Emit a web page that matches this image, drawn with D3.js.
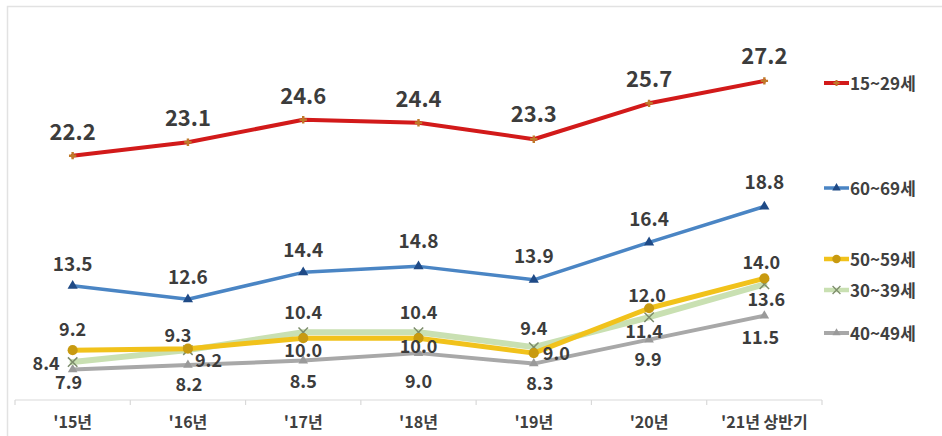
<!DOCTYPE html>
<html>
<head>
<meta charset="utf-8">
<script src="https://cdn.jsdelivr.net/npm/d3@7"></script>
<style>
  html, body { margin: 0; padding: 0; background: #fff; }
  svg { display: block; }
  text { font-family: "Noto Sans CJK KR", "Noto Sans", sans-serif; }
</style>
</head>
<body>
<svg id="chart" width="942" height="436"></svg>
<script>
// Unemployment-style rates by age group, '15 – '21 first half
const categories = ["'15년", "'16년", "'17년", "'18년", "'19년", "'20년", "'21년 상반기"];
const seriesNames = ["15~29세", "60~69세", "50~59세", "30~39세", "40~49세"];
const values15to29 = [22.2, 23.1, 24.6, 24.4, 23.3, 25.7, 27.2];
const values60to69 = [13.5, 12.6, 14.4, 14.8, 13.9, 16.4, 18.8];
const values50to59 = [9.2, 9.3, 10.0, 10.0, 9.0, 12.0, 14.0];
const values30to39 = [8.4, 9.2, 10.4, 10.4, 9.4, 11.4, 13.6];
const values40to49 = [7.9, 8.2, 8.5, 9.0, 8.3, 9.9, 11.5];

const seriesValues = [values15to29, values60to69, values50to59, values30to39, values40to49];

// Visual style per series (same order as seriesNames)
const styles = [
  { color: "#d21a1a", width: 4,   marker: "cross",    mColor: "#c07a2a", mSize: 30, font: 22 },
  { color: "#4a85c4", width: 3.5, marker: "triangle", mColor: "#1f4a86", mSize: 45, font: 19 },
  { color: "#f1c21b", width: 5,   marker: "circle",   mColor: "#c89a10", mSize: 80, font: 18 },
  { color: "#c9e0b2", width: 6,   marker: "x",        mColor: "#7d8c6c", mSize: 60, font: 18 },
  { color: "#a8a8a8", width: 4,   marker: "triangle", mColor: "#9a9a9a", mSize: 40, font: 18 }
];

// Value-label placement relative to each point: [dx, dy, anchor]
const labelPlacement = [
  [[0,-16,"middle"],[0,-16,"middle"],[0,-16,"middle"],[0,-16,"middle"],[0,-17,"middle"],[0,-16,"middle"],[0,-17,"middle"]],
  [[0,-15,"middle"],[0,-15,"middle"],[0,-15,"middle"],[0,-18,"middle"],[0,-17,"middle"],[0,-16,"middle"],[0,-18,"middle"]],
  [[0,-14,"middle"],[-10,-7,"middle"],[0,19,"middle"],[0,15,"middle"],[9,7,"start"],[-2,-6,"middle"],[-3,-9,"middle"]],
  [[-13,8,"end"],[7,17,"start"],[0,-13,"middle"],[0,-13,"middle"],[0,-12,"middle"],[-5,21,"middle"],[2,22,"middle"]],
  [[-4,19,"middle"],[1,26,"middle"],[0,27,"middle"],[0,35,"middle"],[6,26,"middle"],[-1,26,"middle"],[-4,28,"middle"]]
];

// Legend rows: vertical position of each entry
const legendY = [83, 188, 259, 290, 333];

const svg = d3.select("#chart");

// light outer frame
svg.append("rect")
  .attr("x", 7.5).attr("y", 6.5)
  .attr("width", 950).attr("height", 450)
  .attr("fill", "none").attr("stroke", "#e2e2e2").attr("stroke-width", 1.5);

const x = d3.scaleBand().domain(categories).range([15, 822]).padding(0);
const cx = c => x(c) + x.bandwidth() / 2;
const y = d3.scaleLinear().domain([6, 30]).range([398, 39]);

// x axis: baseline with ticks on category boundaries
const axisG = svg.append("g").attr("transform", "translate(0,400)");
axisG.append("line")
  .attr("x1", x.range()[0]).attr("x2", x.range()[1])
  .attr("stroke", "#d9d9d9").attr("stroke-width", 1.2);
axisG.selectAll("line.tick")
  .data(categories.concat([null]))
  .join("line")
  .attr("class", "tick")
  .attr("x1", d => d === null ? x.range()[1] : x(d))
  .attr("x2", d => d === null ? x.range()[1] : x(d))
  .attr("y1", 0).attr("y2", 5)
  .attr("stroke", "#d9d9d9").attr("stroke-width", 1.2);

const xAxis = d3.axisBottom(x).tickSize(0).tickPadding(0);
const xg = svg.append("g").attr("transform", "translate(0,400)").call(xAxis);
xg.select(".domain").remove();
xg.selectAll("text")
  .attr("y", 28).attr("dy", 0)
  .attr("font-size", 16).attr("font-weight", 700)
  .attr("fill", "#404040")
  .style("font-family", "'Noto Sans CJK KR', sans-serif");

const symbolFor = m => ({
  cross: d3.symbolCross, triangle: d3.symbolTriangle, circle: d3.symbolCircle, x: d3.symbolX
})[m];

const line = d3.line()
  .x((d, i) => cx(categories[i]))
  .y(d => y(d));

// draw from bottom group to top
const drawOrder = [4, 3, 2, 1, 0];
drawOrder.forEach(si => {
  const st = styles[si];
  const vals = seriesValues[si];
  const g = svg.append("g");
  g.append("path")
    .datum(vals)
    .attr("d", line)
    .attr("fill", "none")
    .attr("stroke", st.color)
    .attr("stroke-width", st.width)
    .attr("stroke-linejoin", "round")
    .attr("stroke-linecap", "round");
  const sym = d3.symbol().type(symbolFor(st.marker)).size(st.mSize);
  g.selectAll("path.mk")
    .data(vals)
    .join("path")
    .attr("class", "mk")
    .attr("d", sym)
    .attr("transform", (d, i) => `translate(${cx(categories[i])},${y(d)})`)
    .attr("fill", st.marker === "x" ? "none" : st.mColor)
    .attr("stroke", st.marker === "x" ? st.mColor : "none")
    .attr("stroke-width", st.marker === "x" ? 1.5 : 0);
});

// value labels
seriesValues.forEach((vals, si) => {
  const st = styles[si];
  svg.append("g").selectAll("text")
    .data(vals)
    .join("text")
    .attr("x", (d, i) => cx(categories[i]) + labelPlacement[si][i][0])
    .attr("y", (d, i) => y(d) + labelPlacement[si][i][1])
    .attr("text-anchor", (d, i) => labelPlacement[si][i][2])
    .attr("font-size", st.font)
    .attr("font-weight", 700)
    .attr("fill", "#3c3c3c")
    .text(d => d3.format(".1f")(d));
});

// legend
const lg = svg.append("g");
seriesNames.forEach((name, si) => {
  const st = styles[si];
  const row = lg.append("g").attr("transform", `translate(0,${legendY[si]})`);
  row.append("line")
    .attr("x1", 824).attr("x2", 849)
    .attr("stroke", st.color).attr("stroke-width", Math.min(st.width, 4.5));
  row.append("path")
    .attr("d", d3.symbol().type(symbolFor(st.marker)).size(st.mSize * 0.7)())
    .attr("transform", "translate(836.5,0)")
    .attr("fill", st.marker === "x" ? "none" : st.mColor)
    .attr("stroke", st.marker === "x" ? st.mColor : "none")
    .attr("stroke-width", st.marker === "x" ? 1.3 : 0);
  row.append("text")
    .attr("x", 850).attr("y", 6.5)
    .attr("font-size", 17).attr("font-weight", 700)
    .attr("fill", "#404040")
    .text(name);
});
</script>
</body>
</html>
